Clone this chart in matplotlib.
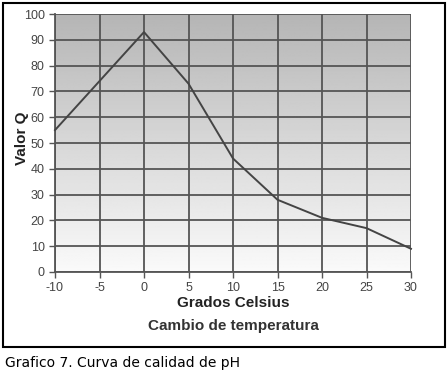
import matplotlib

matplotlib.use("Agg")
import matplotlib.pyplot as plt
import numpy as np
from matplotlib.patches import Rectangle

# data
grados = [-10, -5, 0, 5, 10, 15, 20, 25, 30]
valor_q = [55, 74, 93, 73, 44, 28, 21, 17, 9]
x_ticks = [-10, -5, 0, 5, 10, 15, 20, 25, 30]
y_ticks = [0, 10, 20, 30, 40, 50, 60, 70, 80, 90, 100]

plt.rcParams["font.family"] = ["Liberation Sans", "DejaVu Sans"]
plt.rcParams["axes.unicode_minus"] = False

fig = plt.figure(figsize=(4.48, 3.75), dpi=100)
W, H = 448, 375

# outer frame around the chart
fig.add_artist(Rectangle((3 / W, 1 - 347 / H), 442 / W, 344 / H,
                         transform=fig.transFigure, fill=False,
                         edgecolor="black", linewidth=1.5))

ax = fig.add_axes([55 / W, 1 - 272 / H, 356 / W, 258 / H])

# vertical gray gradient background
grad = np.linspace(0.98, 0.71, 256).reshape(-1, 1)
ax.imshow(grad, cmap="gray", vmin=0, vmax=1, aspect="auto",
          extent=(-10, 30, 0, 100), origin="lower", zorder=0)

ax.set_xlim(-10, 30)
ax.set_ylim(0, 100)
ax.set_xticks(x_ticks)
ax.set_yticks(y_ticks)
ax.grid(True, color="#555555", linewidth=1.3, zorder=1)
ax.set_axisbelow(False)

ax.plot(grados, valor_q, color="#444444", linewidth=1.4, zorder=3, clip_on=False)

for side in ("top", "right"):
    ax.spines[side].set_visible(False)
for side in ("left", "bottom"):
    ax.spines[side].set_color("#555555")
    ax.spines[side].set_linewidth(1.3)

ax.tick_params(colors="#555555", labelcolor="#444444", labelsize=9,
               length=4, width=1)

ax.set_ylabel("Valor Q", fontsize=11, fontweight="bold", color="#222222")
ax.yaxis.set_label_coords((29 - 55) / 356, 0.52)
ax.set_xlabel("Grados Celsius", fontsize=11, fontweight="bold",
              color="#222222", labelpad=1)
fig.text((55 + 411) / 2 / W, 1 - 326 / H, "Cambio de temperatura",
         ha="center", va="center", fontsize=11, fontweight="bold",
         color="#333333")

fig.text(5 / W, 1 - 363 / H, "Grafico 7. Curva de calidad de pH",
         ha="left", va="center", fontsize=10, color="black",
         family=["DejaVu Sans"])

fig.savefig("out.png", dpi=100)
